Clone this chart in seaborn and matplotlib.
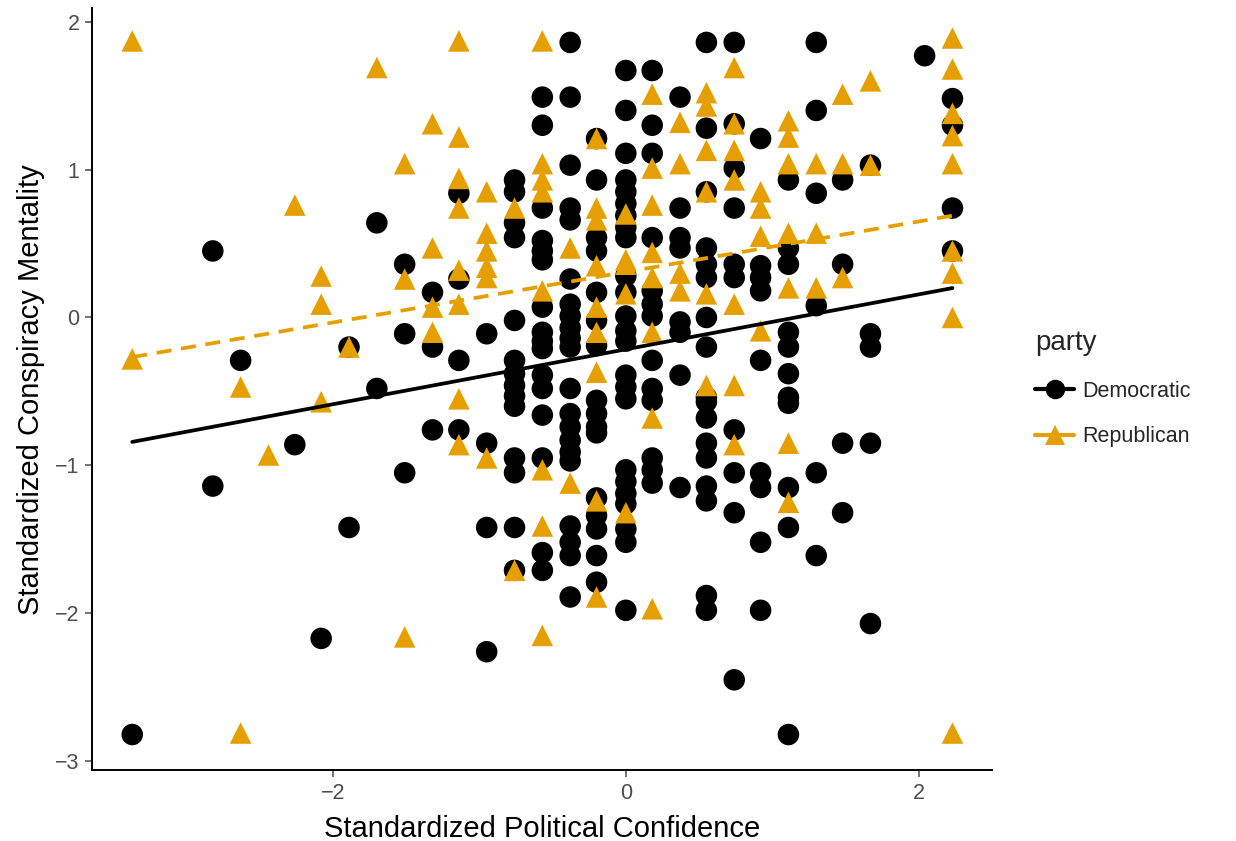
import matplotlib
matplotlib.use("Agg")
import matplotlib.pyplot as plt
from matplotlib.lines import Line2D
import seaborn as sns
import pandas as pd

# Standardized political confidence takes a fixed set of levels
conf_levels = [-3.37, -2.82, -2.63, -2.44, -2.26, -2.08, -1.89, -1.70, -1.51, -1.32,
               -1.14, -0.95, -0.76, -0.57, -0.38, -0.20, 0.0, 0.18, 0.37, 0.55,
               0.74, 0.92, 1.11, 1.30, 1.48, 1.67, 2.04, 2.23]

# Conspiracy mentality scores of Democratic respondents, one list per confidence level
dem_mentality = [
    [-2.82],
    [0.45, -1.14],
    [-0.29],
    [],
    [-0.86],
    [-2.17],
    [-0.20, -1.42],
    [0.64, -0.48],
    [0.36, -0.11, -1.05],
    [0.17, -0.20, -0.76],
    [0.84, 0.26, -0.29, -0.76],
    [-0.11, -0.85, -1.42, -2.26],
    [0.93, 0.85, 0.64, 0.54, -0.02, -0.29, -0.38, -0.46, -0.53, -0.60, -0.95, -1.05, -1.42, -1.71],
    [1.49, 1.30, 0.74, 0.52, 0.45, 0.39, 0.07, -0.10, -0.16, -0.21, -0.39, -0.48, -0.66, -0.95,
     -1.59, -1.71],
    [1.86, 1.49, 1.03, 0.74, 0.66, 0.26, 0.09, 0.01, -0.07, -0.14, -0.20, -0.48, -0.65, -0.74,
     -0.83, -0.91, -0.97, -1.41, -1.52, -1.61, -1.89],
    [1.21, 0.93, 0.54, 0.45, 0.17, -0.02, -0.19, -0.56, -0.65, -0.74, -0.78, -1.22, -1.34, -1.43,
     -1.61, -1.79],
    [1.67, 1.40, 1.11, 0.93, 0.85, 0.77, 0.69, 0.61, 0.54, 0.28, 0.17, 0.01, -0.09, -0.16, -0.39,
     -0.47, -0.55, -1.03, -1.11, -1.19, -1.26, -1.43, -1.52, -1.98],
    [1.67, 1.30, 1.11, 0.54, 0.18, 0.09, 0.01, -0.29, -0.48, -0.56, -0.95, -1.03, -1.12],
    [1.49, 0.74, 0.54, 0.47, -0.03, -0.10, -0.39, -1.15],
    [1.86, 1.28, 0.85, 0.47, 0.36, 0.27, 0.0, -0.20, -0.54, -0.57, -0.68, -0.85, -0.95, -1.14,
     -1.24, -1.88, -1.98],
    [1.86, 1.31, 1.01, 0.74, 0.36, 0.27, -0.76, -1.05, -1.32, -2.45],
    [1.21, 0.35, 0.27, 0.18, -0.29, -1.05, -1.15, -1.52, -1.98],
    [0.93, 0.47, 0.36, -0.10, -0.20, -0.38, -0.54, -0.58, -1.15, -1.42, -2.82],
    [1.86, 1.40, 0.84, 0.08, -1.05, -1.61],
    [0.93, 0.36, -0.85, -1.32],
    [1.03, -0.11, -0.20, -0.85, -2.07],
    [1.77],
    [1.48, 1.30, 0.74, 0.45],
]

# Conspiracy mentality scores of Republican respondents, one list per confidence level
rep_mentality = [
    [1.87, -0.28],
    [],
    [-0.47, -2.81],
    [-0.93],
    [0.76],
    [0.28, 0.09, -0.57],
    [-0.20],
    [1.69],
    [1.04, 0.26, -2.16],
    [1.31, 0.47, 0.07, -0.10],
    [1.87, 1.22, 0.94, 0.74, 0.32, 0.09, -0.55, -0.86],
    [0.85, 0.57, 0.45, 0.34, 0.27, -0.95],
    [0.74, -1.71],
    [1.87, 1.04, 0.93, 0.85, 0.18, -1.03, -1.41, -2.15],
    [0.47, -1.12],
    [1.21, 0.74, 0.66, 0.35, 0.07, -0.10, -0.37, -1.24, -1.89],
    [0.70, 0.39, 0.36, 0.16, -1.32],
    [1.51, 1.01, 0.76, 0.44, 0.27, -0.10, -0.68, -1.97],
    [1.32, 1.04, 0.30, 0.18],
    [1.52, 1.43, 1.13, 0.85, 0.16, -0.46],
    [1.69, 1.31, 1.13, 0.93, 0.09, -0.46, -0.86],
    [0.85, 0.74, 0.55, -0.09],
    [1.33, 1.22, 1.04, 0.57, 0.20, -0.85, -1.25],
    [1.04, 0.57, 0.20],
    [1.51, 1.04, 0.27],
    [1.60, 1.03],
    [],
    [1.89, 1.68, 1.38, 1.23, 1.04, 0.45, 0.30, 0.0, -2.81],
]

parties = ["Democratic", "Republican"]
party_colors = {"Democratic": "#000000", "Republican": "#E69F00"}
party_markers = {"Democratic": "o", "Republican": "^"}
party_dashes = {"Democratic": "-", "Republican": (0, (4, 2.6))}

rows = []
for party, table in zip(parties, [dem_mentality, rep_mentality]):
    for level, scores in zip(conf_levels, table):
        for s in scores:
            rows.append({"confidence": level, "mentality": s, "party": party})
df = pd.DataFrame(rows)

sns.set_style("ticks")
plt.rcParams["font.family"] = ["Liberation Sans", "DejaVu Sans"]

fig = plt.figure(figsize=(12.36, 8.41), dpi=100)
ax = fig.add_axes([0.0744, 0.0844, 0.7282, 0.9056])

sns.scatterplot(data=df, x="confidence", y="mentality", hue="party", style="party",
                palette=party_colors, markers=party_markers, s=240, linewidth=0,
                legend=False, ax=ax, zorder=2)

for party in parties:
    sub = df[df["party"] == party]
    sns.regplot(data=sub, x="confidence", y="mentality", scatter=False, ci=None,
                color=party_colors[party],
                line_kws={"linewidth": 2.7, "linestyle": party_dashes[party], "zorder": 3},
                ax=ax)

ax.set_xlim(-3.645, 2.50)
ax.set_ylim(-3.06, 2.09)
ax.set_xticks([-2, 0, 2])
ax.set_yticks([-3, -2, -1, 0, 1, 2])
ax.set_xlabel("Standardized Political Confidence", fontsize=21, color="#000000", labelpad=8)
ax.set_ylabel("Standardized Conspiracy Mentality", fontsize=21, color="#000000", labelpad=7)
ax.tick_params(axis="both", labelsize=15.5, colors="#4d4d4d", length=5, width=1.1, pad=4)
for side in ["top", "right"]:
    ax.spines[side].set_visible(False)
for side in ["left", "bottom"]:
    ax.spines[side].set_color("#000000")
    ax.spines[side].set_linewidth(1.4)

handles = [
    Line2D([0], [0], color=party_colors[p], marker=party_markers[p], markersize=14,
           linewidth=3, linestyle="-", markeredgewidth=0)
    for p in parties
]
leg = fig.legend(handles, parties, title="party", loc="center left",
                 bbox_to_anchor=(0.822, 0.538), frameon=False, fontsize=15.5,
                 title_fontsize=20, handlelength=1.8, handletextpad=0.4,
                 labelspacing=1.15)
leg._legend_box.align = "left"

fig.savefig("out.png", dpi=100)
